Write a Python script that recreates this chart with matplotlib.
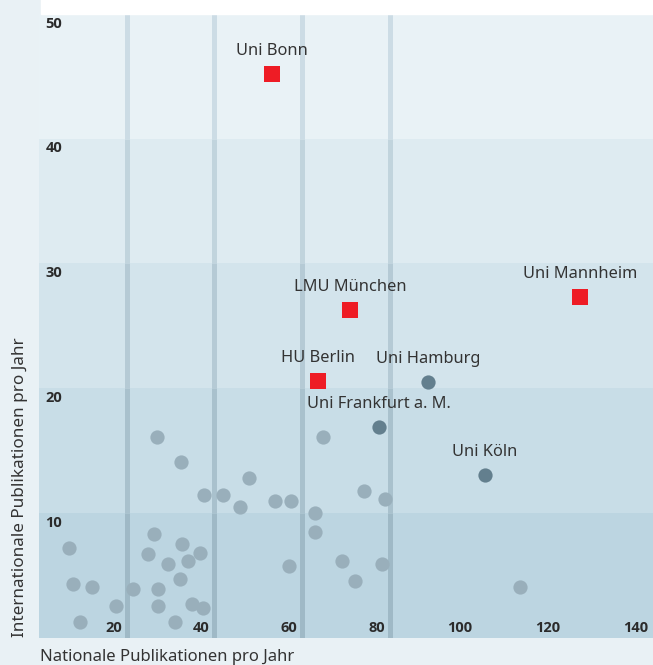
import numpy as np
import matplotlib
matplotlib.use('Agg')
import matplotlib.pyplot as plt

plt.rcParams['font.family'] = ['Noto Sans', 'DejaVu Sans']

# Hervorgehobene Universitäten (rot)
red_names = ["Uni Bonn", "LMU München", "HU Berlin", "Uni Mannheim"]
red_x = [53.1, 70.9, 63.6, 123.4]
red_y = [45.2, 26.3, 20.6, 27.3]

# Weitere benannte Universitäten (dunkel)
dark_names = ["Uni Hamburg", "Uni Frankfurt a. M.", "Uni Köln"]
dark_x = [88.7, 77.5, 101.7]
dark_y = [20.5, 16.9, 13.0]

# Übrige Universitäten (grau)
gray_x = [6.9, 7.8, 12.0, 9.4, 17.6, 21.5, 26.2, 24.8, 29.3, 27.1, 27.1, 31.0,
          32.5, 33.9, 32.1, 36.7, 35.0, 37.5, 37.7, 41.9, 45.8, 47.9, 53.7, 57.5,
          62.9, 62.9, 56.9, 74.1, 79.0, 69.2, 78.1, 72.0, 109.7, 26.9, 32.4, 64.8]
gray_y = [7.2, 4.3, 4.05, 1.25, 2.5, 3.9, 8.3, 6.7, 5.9, 3.9, 2.5, 1.25,
          7.5, 6.1, 4.7, 6.8, 2.7, 2.4, 11.4, 11.4, 10.5, 12.8, 10.95, 10.95,
          10.0, 8.5, 5.7, 11.75, 11.1, 6.1, 5.9, 4.5, 4.05, 16.1, 14.1, 16.1]

x_ticks = [20, 40, 60, 80, 100, 120, 140]
y_ticks = [10, 20, 30, 40, 50]
v_lines = [20, 40, 60, 80]

band_colors = ['#bcd5e1', '#c8dde7', '#d3e4ec', '#deebf1', '#e9f2f6']
line_colors = ['#9fb9c6', '#a9c1cd', '#b5cad5', '#c1d4dd', '#ccdce5']

W, H = 653, 665
fig = plt.figure(figsize=(W / 100, H / 100), dpi=100, facecolor='#e9f1f5')
# weisser Streifen oben
fig.patches.append(plt.Rectangle((41 / W, (H - 14) / H), 1, 1, transform=fig.transFigure,
                                 color='white', zorder=0))

ax = fig.add_axes([39 / W, 27.5 / H, 1 - 39 / W, (637.5 - 14) / H])
ax.set_xlim(0, 140)
ax.set_ylim(0, 50)
for s in ax.spines.values():
    s.set_visible(False)
ax.set_xticks([])
ax.set_yticks([])

# Hintergrundbänder
for i, c in enumerate(band_colors):
    ax.axhspan(i * 10, (i + 1) * 10, color=c, lw=0, zorder=0)
    ax.vlines(v_lines, i * 10, (i + 1) * 10, color=line_colors[i], lw=3.6, zorder=1)

ax.scatter(gray_x, gray_y, s=105, color='#99afbb', lw=0, zorder=3)
ax.scatter(dark_x, dark_y, s=105, color='#637f8e', lw=0, zorder=4)
ax.scatter(red_x, red_y, s=130, marker='s', color='#ee1c25', lw=0, zorder=5)

for name, x, y in zip(red_names + dark_names, red_x + dark_x, red_y + dark_y):
    ax.annotate(name, (x, y), xytext=(0, 16.5), textcoords='offset points',
                ha='center', va='center', fontsize=11.8, color='#333333', zorder=6)

# Achsenbeschriftungen innerhalb der Fläche
tick_font = dict(family=['Open Sans', 'DejaVu Sans'], fontsize=10.5, fontweight='bold',
                 color='#2b2b2b')
for v in y_ticks:
    ax.annotate(str(v), (0, v), xycoords=('axes fraction', 'data'),
                xytext=(4.5, -2), textcoords='offset points', ha='left', va='top',
                **tick_font)
for v in x_ticks:
    ax.annotate(str(v), (v, 0), xycoords=('data', 'axes fraction'),
                xytext=(-3.5, 2), textcoords='offset points', ha='right', va='bottom',
                **tick_font)

fig.text(40 / W, 1 - 657 / H, "Nationale Publikationen pro Jahr", ha='left', va='center',
         fontsize=12, color='#333333')
fig.text(20 / W, 1 - 637 / H, "Internationale Publikationen pro Jahr", rotation=90,
         ha='center', va='bottom', fontsize=12.3, color='#333333')

fig.savefig("out.png", dpi=100, facecolor=fig.get_facecolor())
